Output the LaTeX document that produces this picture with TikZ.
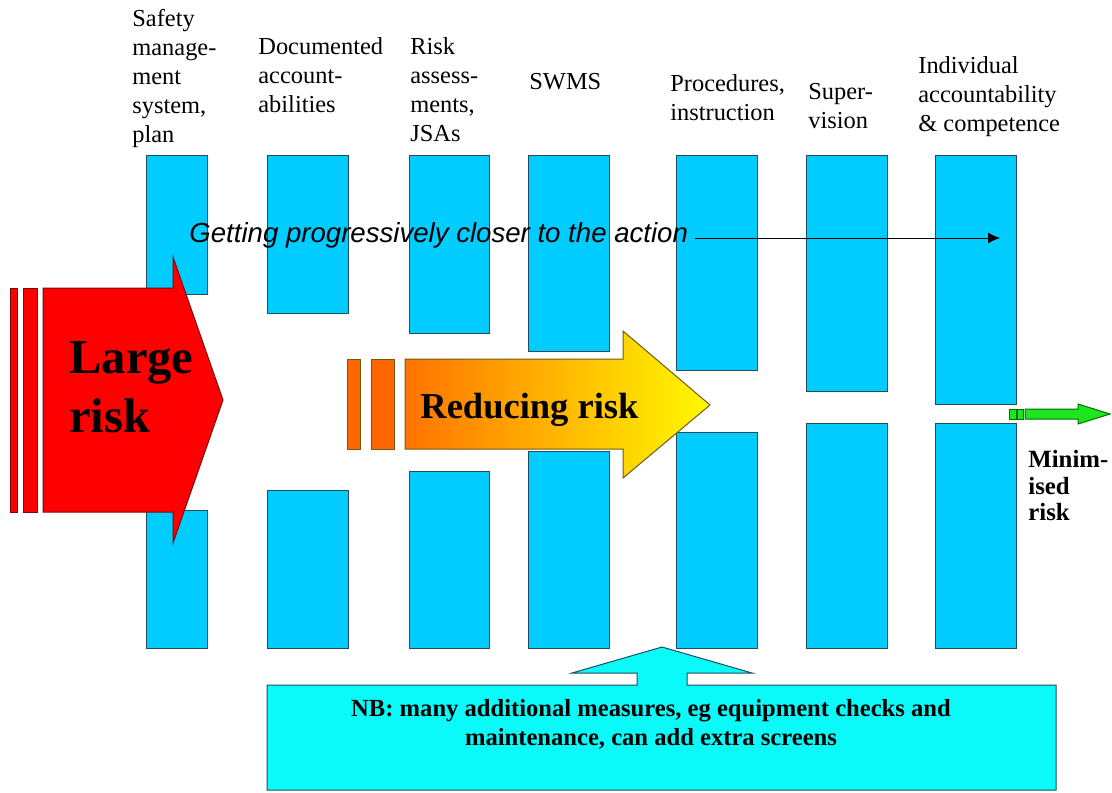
\documentclass[tikz,border=0pt]{standalone}
\usepackage{fontspec}
\setmainfont{Liberation Serif}
\newfontfamily\arialfont{Liberation Sans}
\usepackage{tikz}
\usetikzlibrary{arrows.meta}

\begin{document}
\begin{tikzpicture}[x=0.5pt,y=-0.5pt,
	screen/.style={draw=screenedge,fill=screenblue,line width=0.5pt},
	toplabel/.style={anchor=north west,inner sep=0pt,align=left,font=\fontsize{12.2}{14.5}\selectfont}]
				% 颜色列表
				\definecolor{screenblue}{RGB}{0,204,255}
				\definecolor{screenedge}{RGB}{35,75,95}
				\definecolor{nbcyan}{RGB}{10,250,250}
				\definecolor{riskred}{RGB}{255,0,0}
				\definecolor{rededge}{RGB}{120,10,10}
				\definecolor{barorange}{RGB}{255,102,0}
				\definecolor{riskorange}{RGB}{255,115,0}
				\definecolor{riskyellow}{RGB}{255,250,0}
				\definecolor{yellowedge}{RGB}{110,90,20}
				\definecolor{mingreen}{RGB}{30,230,30}
				\definecolor{greenedge}{RGB}{0,110,0}
				\useasboundingbox (0,0) rectangle (1112,792);
				
				% 屏障(上下两块)
				\foreach \xa/\xb/\ya/\yb in {146/207/294/510, 267/348/313/490, 409/489/333/471, 528/609/351/451, 676/757/370/432, 806/887/391/423, 935/1016/404/423}
				{
				\draw[screen] (\xa,155) rectangle (\xb,\ya);
				\draw[screen] (\xa,\yb) rectangle (\xb,648);
				}
				
				% 屏障标题
				\node[toplabel] (sms) at (132,9) {Safety\\manage-\\ment\\system,\\plan};
				\node[toplabel] (doc) at (258,37) {Documented\\account-\\abilities};
				\node[toplabel] (ra) at (410,37) {Risk\\assess-\\ments,\\JSAs};
				\node[toplabel] (swms) at (529,73) {SWMS};
				\node[toplabel] (proc) at (670,74) {Procedures,\\instruction};
				\node[toplabel] (sup) at (808,83) {Super-\\vision};
				\node[toplabel] (ind) at (918,56) {Individual\\accountability\\\& competence};
				
				% 大风险箭头
				\foreach \xa/\xb in {10/17, 23/37}
				\draw[fill=riskred,draw=rededge,line width=0.5pt] (\xa,288) rectangle (\xb,512);
				\draw[fill=riskred,draw=rededge,line width=0.5pt] (43,288) -- (173,288) -- (173,257) -- (223,400) -- (173,543) -- (173,512) -- (43,512) -- cycle;
				\node[anchor=north west,inner sep=0pt,align=left,font=\bfseries\fontsize{24.3}{29.5}\selectfont] (large) at (69,341) {Large\\risk};
				
				% 风险递减箭头
				\foreach \xa/\xb in {347/360, 371/394}
				\draw[fill=barorange,draw=yellowedge,line width=0.5pt] (\xa,359) rectangle (\xb,449);
				\shade[left color=riskorange,middle color=riskyellow!85!riskorange,right color=riskyellow,draw=yellowedge,line width=0.5pt] (405,359) -- (623,359) -- (623,331) -- (710,405) -- (623,478) -- (623,449) -- (405,449) -- cycle;
				\node[anchor=base west,inner sep=0pt,font=\bfseries\fontsize{18.25}{22}\selectfont] (reduce) at (420,418) {Reducing risk};
				
				% 越来越接近行动
				\node[anchor=base west,inner xsep=3.5pt,inner ysep=0pt,font=\arialfont\itshape\fontsize{13.8}{16}\selectfont] (action) at (182,242) {Getting progressively closer to the action};
				\coordinate (tip) at (1000,238);
				\draw[-{Latex[length=6pt,width=5.5pt]},line width=0.5pt] (action.east |- tip) -- (tip);
				
				% 最小风险
				\foreach \xa/\xb in {1009/1016, 1017/1023}
				\draw[fill=mingreen,draw=greenedge,line width=0.5pt] (\xa,409) rectangle (\xb,419);
				\draw[fill=mingreen,draw=greenedge,line width=0.5pt] (1025,409) -- (1078,409) -- (1078,404) -- (1110,414) -- (1078,424) -- (1078,419) -- (1025,419) -- cycle;
				\node[anchor=north west,inner sep=0pt,align=left,font=\bfseries\fontsize{12.4}{13.3}\selectfont] (minrisk) at (1028,450) {Minim-\\ised\\risk};
				
				% 附加措施
				\draw[fill=nbcyan,draw=screenedge,line width=0.5pt] (267,685) -- (637,685) -- (637,673) -- (572,673) -- (662,647) -- (752,673) -- (687,673) -- (687,685) -- (1056,685) -- (1056,790) -- (267,790) -- cycle;
				\node[anchor=north,inner sep=0pt,align=center,font=\bfseries\fontsize{12.3}{14.5}\selectfont] (nb) at (651,699) {NB: many additional measures, eg equipment checks and\\maintenance, can add extra screens};
				
			\end{tikzpicture}
\end{document}
